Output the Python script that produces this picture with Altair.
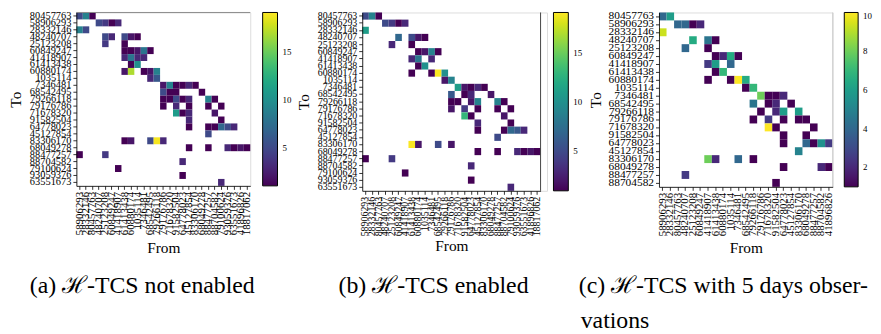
import altair as alt
import pandas as pd

FONT = "Liberation Serif"

# ---- tick labels -------------------------------------------------------
TO_AB = ["80457763", "58906293", "28332146", "48240707", "25123208", "60849247",
         "41418907", "61413438", "60880174", "1035114", "7346481", "68542495",
         "79266118", "79176786", "71678320", "91582504", "64778023", "45127854",
         "83306170", "68049278", "88477257", "88704582", "79100624", "93059376",
         "63551673"]
TO_C = TO_AB[:22]

FROM_AB = ["58906293", "28332146", "80457763", "48240707", "25123208", "60849247",
           "41418907", "61413438", "60880174", "1035114", "7346481", "68542495",
           "79266118", "79176786", "71678320", "91582504", "64778023", "45127854",
           "83306170", "68049278", "88477257", "88704582", "79100624", "93059376",
           "63551673", "41896826", "18817062"]
FROM_C = ["58906293", "28332146", "80457763", "48240707", "25123208", "60849247",
          "41418907", "61413438", "60880174", "1035114", "7346481", "68542495",
          "79266118", "79176786", "71678320", "91582504", "64778023", "45127854",
          "83306170", "68049278", "88477257", "88704582", "41896826"]

# ---- panel (a): H-TCS not enabled  (row index, column index, value) ----
A_ROW = [0, 0, 0, 1, 1, 1, 1, 2, 2, 3, 3, 3, 3, 3, 4, 4, 5, 5, 5, 5, 5, 6, 6, 6, 6,
         7, 7, 8, 8, 8, 8, 8, 9, 9, 10, 10, 10, 10, 10, 10, 11, 11, 11, 11,
         12, 12, 12, 12, 12, 12, 12, 13, 13, 13, 13, 13, 14, 14, 14, 14, 15, 15,
         16, 16, 16, 16, 16, 16, 17, 18, 18, 18, 18, 18, 19, 19, 19, 19, 19, 19,
         20, 20, 21, 22, 23, 24]
A_COL = [0, 1, 2, 3, 4, 5, 6, 0, 1, 4, 5, 7, 8, 9, 4, 7, 7, 8, 9, 10, 11, 7, 8, 9, 10,
         8, 9, 7, 8, 10, 11, 12, 11, 12, 13, 14, 15, 16, 17, 18, 13, 14, 15, 19,
         13, 14, 15, 16, 17, 20, 21, 13, 15, 17, 20, 22, 15, 16, 17, 21, 17, 22,
         17, 20, 21, 22, 23, 24, 20, 7, 8, 11, 12, 13, 17, 20, 23, 24, 25, 26,
         0, 4, 16, 6, 16, 22]
A_VAL = [5, 9, 1, 5, 4, 1, 3, 9, 5, 5, 3, 5, 2, 1, 4, 1, 1, 1, 2, 8, 1, 3, 8, 3, 3,
         1, 10, 2, 17, 1, 2, 9, 3, 6, 2, 9, 1, 1, 3, 1, 5, 1, 1, 1,
         1, 1, 5, 1, 3, 9, 1, 1, 3, 1, 1, 1, 11, 1, 3, 2, 3, 1,
         1, 1, 1, 7, 5, 3, 5, 1, 2, 5, 19, 3, 1, 1, 3, 1, 2, 1,
         1, 4, 3, 1, 1, 3]

# ---- panel (b): H-TCS enabled ------------------------------------------
B_ROW = [0, 0, 0, 1, 1, 1, 1, 2, 3, 3, 3, 3, 4, 4, 5, 5, 5, 5, 6, 6, 6, 7, 7,
         8, 8, 8, 8, 9, 9, 10, 10, 10, 10, 10, 11, 11, 11, 11,
         12, 12, 12, 12, 12, 12, 13, 13, 13, 13, 13, 14, 14, 14, 15, 15,
         16, 16, 16, 16, 16, 17, 18, 18, 18, 18, 19, 19, 19, 19, 19, 19,
         20, 20, 21, 22, 23, 24]
B_COL = [0, 1, 2, 3, 4, 5, 6, 0, 5, 7, 8, 9, 4, 7, 8, 9, 10, 11, 7, 8, 10, 8, 9,
         7, 10, 11, 12, 12, 13, 14, 15, 16, 17, 18, 13, 15, 16, 19,
         13, 14, 16, 17, 20, 21, 13, 15, 17, 20, 22, 15, 16, 21, 17, 22,
         17, 21, 22, 23, 24, 20, 7, 8, 11, 13, 17, 20, 23, 24, 25, 26,
         0, 4, 16, 6, 16, 22]
B_VAL = [5, 9, 1, 5, 4, 1, 3, 11, 7, 5, 2, 1, 3, 1, 1, 2, 9, 1, 3, 8, 3, 1, 10,
         1, 1, 19, 10, 2, 9, 11, 2, 1, 3, 1, 6, 1, 3, 2,
         1, 1, 2, 9, 9, 1, 2, 4, 1, 1, 1, 13, 1, 2, 3, 1,
         1, 1, 7, 6, 3, 5, 19, 2, 5, 2, 1, 1, 3, 1, 2, 1,
         1, 4, 3, 1, 1, 3]

# ---- panel (c): H-TCS with 5 days observations -------------------------
C_ROW = [0, 0, 1, 1, 1, 1, 2, 3, 3, 3, 4, 4, 5, 5, 5, 5, 6, 6, 6, 7, 7,
         8, 8, 8, 8, 9, 9, 10, 10, 10, 10, 11, 11, 11, 11, 12, 12, 12, 12,
         13, 13, 13, 13, 13, 14, 14, 14, 15, 15, 16, 16, 16, 16, 16, 17,
         18, 18, 18, 18, 19, 19, 19, 20, 21]
C_COL = [0, 1, 2, 3, 4, 5, 0, 4, 6, 7, 3, 6, 7, 8, 9, 10, 6, 7, 9, 7, 8,
         6, 9, 10, 11, 11, 12, 13, 14, 15, 16, 12, 14, 15, 17, 13, 15, 16, 18,
         12, 14, 16, 18, 19, 14, 15, 20, 16, 19, 16, 19, 20, 21, 22, 18,
         6, 7, 10, 12, 16, 21, 22, 3, 15]
C_VAL = [4, 6, 4, 4, 1, 2, 9.3, 6.5, 4.5, 1, 4, 1, 1, 2, 6.5, 1, 2.5, 6, 4, 1, 7,
         1, 1, 10, 6.5, 1, 7, 8, 1, 1, 2, 4.5, 1, 2, 1, 1, 2, 6, 6,
         1, 2.5, 1, 1, 1, 10, 1, 1, 1, 1, 1, 4, 1, 5.5, 2.5, 5,
         8, 2, 4, 1, 1, 2, 1, 2.5, 1]

CAPTIONS = ["(a) \u210b-TCS not enabled", "(b) \u210b-TCS enabled",
            "(c) \u210b-TCS with 5 days obser-", "vations"]


def frame(rows, cols, vals, to_labels, from_labels):
    return pd.DataFrame({
        "To": [to_labels[r] for r in rows],
        "From": [from_labels[c] for c in cols],
        "count": vals,
    })


def heat(df, to_labels, from_labels, vmax, ticks, h, fs_y, fs_x, tp_y, tp_x,
         leg_off, leg_thick, x_range=None, title_x=None):
    xs = dict(domain=from_labels, paddingInner=0, paddingOuter=0)
    if x_range is not None:
        xs["range"] = x_range
    xa = dict(title="From", labelAngle=270, labelFontSize=fs_x, labelFont=FONT,
              labelColor="black", tickColor="black", tickSize=3.5, tickWidth=0.8,
              domainColor="black", domainWidth=0.8, labelPadding=2,
              titleFont=FONT, titleFontSize=15.5, titleFontWeight="normal",
              titleColor="black", titlePadding=tp_x, grid=False, labelOverlap=False)
    if title_x is not None:
        xa["titleX"] = title_x
    return alt.Chart(df).mark_rect().encode(
        x=alt.X("From:N", sort=from_labels, scale=alt.Scale(**xs), axis=alt.Axis(**xa)),
        y=alt.Y("To:N", sort=to_labels,
                scale=alt.Scale(domain=to_labels, paddingInner=0, paddingOuter=0),
                axis=alt.Axis(title="To", labelFontSize=fs_y, labelFont=FONT,
                              labelColor="black", tickColor="black", tickSize=3.5,
                              tickWidth=0.8, domainColor="black", domainWidth=0.8,
                              labelPadding=2, titleFont=FONT, titleFontSize=15.5,
                              titleFontWeight="normal", titleColor="black",
                              titlePadding=tp_y, grid=False, labelOverlap=False)),
        color=alt.Color("count:Q", scale=alt.Scale(scheme="viridis", domain=[1, vmax]),
                        legend=alt.Legend(title=None, values=ticks, gradientLength=h,
                                          gradientThickness=leg_thick, offset=leg_off,
                                          orient="right", direction="vertical",
                                          labelFont=FONT, labelFontSize=9,
                                          labelColor="black", gradientStrokeColor="black",
                                          gradientStrokeWidth=1, labelOffset=5,
                                          padding=0)),
    )


one = pd.DataFrame({"k": [0]})

# panel a
WA, HA = 175.5, 175
heat_a = heat(frame(A_ROW, A_COL, A_VAL, TO_AB, FROM_AB), TO_AB, FROM_AB, 19.2,
              [5, 10, 15], HA, 10.5, 11, 6, 5.5, 11.5, 15)
spine_a = alt.Chart(one).mark_rule(color="#8c8c8c", strokeWidth=1).encode(
    x=alt.value(0), x2=alt.value(WA), y=alt.value(0))
cap_layers = []
for txt, cx, cy, al in [(CAPTIONS[0], 66.5, 276, "center"), (CAPTIONS[1], 360.5, 276, "center"),
                        (CAPTIONS[2], 507, 276, "left"), (CAPTIONS[3], 509, 311, "left")]:
    cap_layers.append(
        alt.Chart(pd.DataFrame({"t": [txt]})).mark_text(
            align=al, baseline="middle", font=FONT, fontSize=24, color="black"
        ).encode(x=alt.value(cx), y=alt.value(cy), text="t:N"))
panel_a = alt.layer(heat_a, spine_a, *cap_layers).properties(width=WA, height=HA)

# panel b
WB, HB = 180, 180
heat_b = heat(frame(B_ROW, B_COL, B_VAL, TO_AB, FROM_AB), TO_AB, FROM_AB, 19.1,
              [5, 10, 15], HB, 10, 10, 6, 2.5, 5.5, 15, x_range=[0, WB], title_x=90)
spine_b = alt.Chart(one).mark_rule(color="#444444", strokeWidth=1).encode(
    x=alt.value(WB), y=alt.value(0), y2=alt.value(HB))
panel_b = alt.layer(heat_b, spine_b).properties(width=WB + 6.5, height=HB)

# panel c
WC, HC = 175.3, 176
heat_c = heat(frame(C_ROW, C_COL, C_VAL, TO_C, FROM_C), TO_C, FROM_C, 10,
              [2, 4, 6, 8, 10], HC, 11.5, 11, 5, 4.5, 11, 14)
spine_c = alt.Chart(one).mark_rule(color="#cccccc", strokeWidth=1).encode(
    x=alt.value(WC), y=alt.value(0), y2=alt.value(HC))
panel_c = alt.layer(heat_c, spine_c).properties(width=WC, height=HC)

chart = alt.hconcat(panel_a, panel_b, panel_c, spacing=112.5, bounds="flush",
                    padding=0).resolve_scale(color="independent").configure_view(
    stroke=None).configure(background="white")

chart.save("out.html", embed_options={"renderer": "svg", "actions": False})
